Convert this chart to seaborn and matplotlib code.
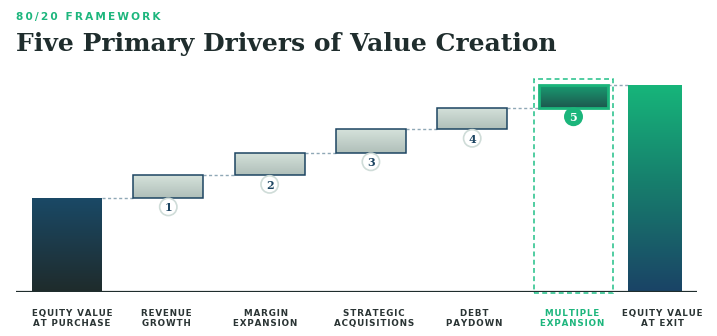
import numpy as np
import pandas as pd
import matplotlib
matplotlib.use("Agg")
import matplotlib.pyplot as plt
from matplotlib.colors import to_rgba
from matplotlib.patches import Rectangle
import seaborn as sns

# ---- data -------------------------------------------------------------
stages = ["EQUITY VALUE\nAT PURCHASE", "REVENUE\nGROWTH", "MARGIN\nEXPANSION",
          "STRATEGIC\nACQUISITIONS", "DEBT\nPAYDOWN", "MULTIPLE\nEXPANSION",
          "EQUITY VALUE\nAT EXIT"]
start_value = 100
driver_gains = [24, 24, 25, 23, 24]
driver_numbers = ["1", "2", "3", "4", "5"]
highlight_driver = 4          # index of the emphasised driver (multiple expansion)

kicker = "80/20 FRAMEWORK"
title = "Five Primary Drivers of Value Creation"

# ---- derived waterfall geometry ---------------------------------------
exit_value = start_value + sum(driver_gains)
driver_bottoms = start_value + np.concatenate([[0], np.cumsum(driver_gains)[:-1]])
driver_tops = driver_bottoms + np.array(driver_gains)

step_pos = np.arange(6, dtype=float)      # purchase + five drivers
exit_pos = 5.8
bar_w = 0.69
exit_w = 0.53
# small horizontal nudges of the category captions (in bar units)
label_shift = [0.05, -0.02, -0.04, 0.03, 0.02, -0.01, 0.08]


def tracked(s, gap):
    """Spread letters apart with a narrow space character."""
    return "\n".join(gap.join(line) for line in s.split("\n"))


# ---- colours ------------------------------------------------------------
GREEN = "#1db67d"
NAVY = "#1d4562"
INK = "#1f2d2d"
DASH = "#8fa8b6"

sns.set_theme(style="white")
plt.rcParams["font.family"] = ["DejaVu Sans"]

fig = plt.figure(figsize=(7.17, 3.36), dpi=100)
ax = fig.add_axes([16 / 717, 44 / 336, 681 / 717, 222 / 336])

steps = pd.DataFrame({
    "pos": step_pos,
    "height": np.concatenate([[start_value], driver_gains]),
    "bottom": np.concatenate([[0], driver_bottoms]),
})
sns.barplot(data=steps, x="pos", y="height", native_scale=True, width=bar_w,
            bottom=steps["bottom"].values, errorbar=None, color="white",
            linewidth=0, ax=ax)
exit_df = pd.DataFrame({"pos": [exit_pos], "height": [exit_value]})
sns.barplot(data=exit_df, x="pos", y="height", native_scale=True, width=exit_w,
            errorbar=None, color="white", linewidth=0, ax=ax)

bars = list(ax.patches)


def gradient(ax, patch, colors, z=2):
    x, y = patch.get_x(), patch.get_y()
    w, h = patch.get_width(), patch.get_height()
    t = np.linspace(0, 1, 256)
    stops = np.array([to_rgba(c) for c in colors])
    sp = np.linspace(0, 1, len(colors))
    img = np.stack([np.interp(t, sp, stops[:, k]) for k in range(4)], axis=-1)
    im = ax.imshow(img[:, None, :], extent=[x, x + w, y, y + h], aspect="auto",
                   origin="upper", zorder=z, interpolation="bilinear")
    im.set_clip_path(patch)
    patch.set_facecolor("none")


# purchase bar
gradient(ax, bars[0], ["#1a4966", "#1f2b2b"])
# driver bars
for i, p in enumerate(bars[1:6]):
    if i == highlight_driver:
        gradient(ax, p, ["#199c71", "#1d574e"])
        p.set_edgecolor("#1bb57b")
        p.set_linewidth(2.0)
    else:
        gradient(ax, p, ["#d5e2db", "#b0bfb9"])
        p.set_edgecolor(NAVY)
        p.set_linewidth(1.1)
    p.set_zorder(3)
# exit bar
gradient(ax, bars[6], ["#16b57a", "#177b6c", "#1a4366"])

# dashed connectors between consecutive bars
levels = np.concatenate([[start_value], driver_tops])
rights = [b.get_x() + b.get_width() for b in bars[:6]]
lefts = [b.get_x() for b in bars[1:7]]
ax.hlines(levels, rights, lefts, colors=DASH, linewidth=1.0,
          linestyles=(0, (2.2, 1.8)), zorder=1)

# highlight frame round the emphasised driver
hb = bars[1 + highlight_driver]
cx = hb.get_x() + hb.get_width() / 2
ax.add_patch(Rectangle((cx - 0.39, -1.2), 0.78, driver_tops[highlight_driver] + 8.2,
                       fill=False, edgecolor="#20c087", linewidth=1.1,
                       linestyle=(0, (3.2, 2.2)), zorder=1, clip_on=False))

# numbered badges under each driver
badge_y = driver_bottoms - 9.5
badge_x = step_pos[1:]
face = ["white"] * 5
face[highlight_driver] = "#1bb57b"
edge = ["#cfdcd8"] * 5
edge[highlight_driver] = "#1bb57b"
sns.scatterplot(x=badge_x, y=badge_y, s=155, c=face, edgecolor=edge,
                linewidth=1.2, zorder=4, ax=ax, legend=False)
for i, (bx, by, n) in enumerate(zip(badge_x, badge_y, driver_numbers)):
    ax.text(bx, by, n, ha="center", va="center_baseline", fontsize=8,
            fontweight="bold", family="DejaVu Serif",
            color="white" if i == highlight_driver else NAVY, zorder=5)

# baseline
ax.axhline(0, color=INK, linewidth=1.6, zorder=6)

ax.set_xlim((16 - 67) / 101.3, (697 - 67) / 101.3)
ax.set_ylim(0, 222 / 0.94)
tick_pos = np.array(list(step_pos) + [exit_pos]) + np.array(label_shift)
ax.set_xticks(tick_pos)
ax.set_xticklabels([tracked(s, "\u200a") for s in stages], fontsize=6.3,
                   fontweight="bold", color="#2a3434", linespacing=1.05)
ax.get_xticklabels()[5].set_color(GREEN)
ax.tick_params(axis="x", length=0, pad=12.5)
ax.set_yticks([])
ax.set_xlabel("")
ax.set_ylabel("")
for s in ax.spines.values():
    s.set_visible(False)
ax.grid(False)

fig.text(16 / 717, 1 - 17 / 336, tracked(kicker, "\u2009"), ha="left", va="center",
         fontsize=7.6, fontweight="bold", color=GREEN)
fig.text(16 / 717, 1 - 51.5 / 336, title, ha="left", va="baseline",
         fontsize=18.0, fontweight="bold", family="DejaVu Serif", color=INK)

fig.savefig("out.png", dpi=100)
